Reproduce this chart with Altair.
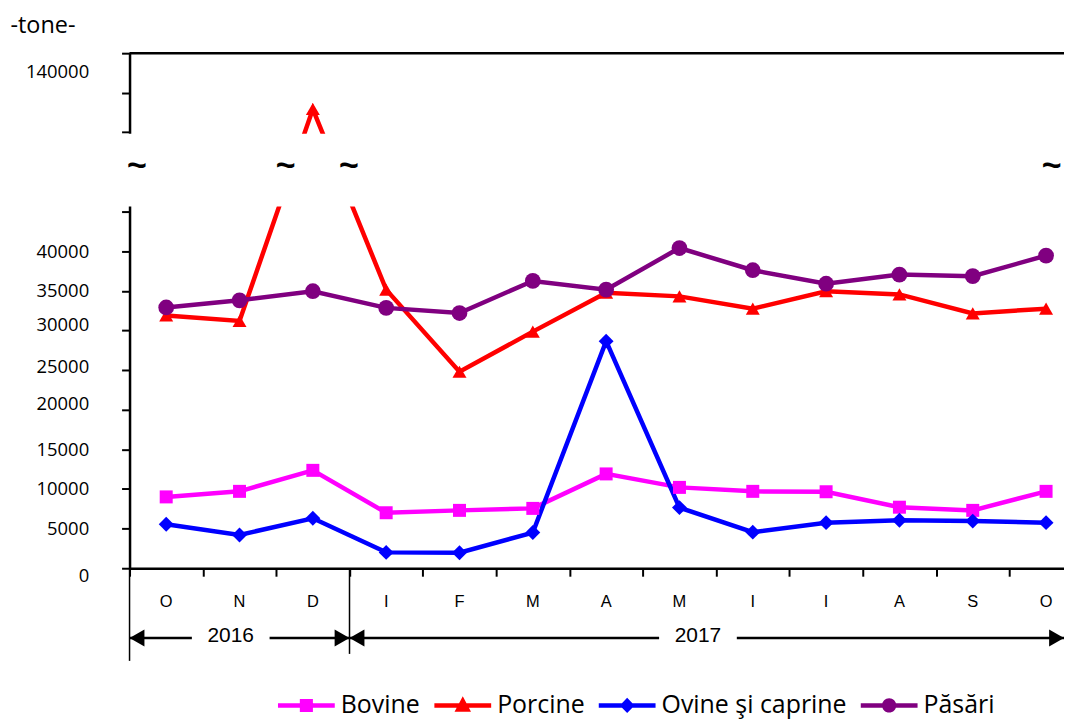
import altair as alt
import pandas as pd

# ---------------- data ----------------
months = ["O", "N", "D", "I", "F", "M", "A", "M", "I", "I", "A", "S", "O"]
series = ["Bovine", "Porcine", "Ovine şi caprine", "Păsări"]
bovine = [9000, 9700, 12350, 7000, 7300, 7550, 11900, 10200, 9700, 9650, 7700, 7300, 9700]
porcine = [31900, 31200, 135800, 35150, 24800, 29850, 34750, 34300, 32750, 34950, 34550, 32150, 32750]
ovine = [5550, 4200, 6300, 2000, 1950, 4500, 28650, 7650, 4550, 5750, 6050, 5950, 5750]
pasari = [32900, 33800, 34950, 32850, 32200, 36250, 35150, 40400, 37600, 35900, 37050, 36850, 39450]
years = ["2016", "2017"]
year_first_month = [0, 3]
y_ticks_low = [0, 5000, 10000, 15000, 20000, 25000, 30000, 35000, 40000, 45000]
y_ticks_high = [130000, 140000, 150000]
unit_label = "-tone-"

# ---------------- styles / layout ----------------
colors = ["#FF00FF", "#FF0000", "#0000FF", "#800080"]
shapes = ["square", "triangle-up", "diamond", "circle"]
sizes = [170, 250, 225, 225]
legend_paths = [
    "M-1,-0.08H1V0.08H-1Z M-0.23,-0.23H0.23V0.23H-0.23Z",
    "M-1,-0.08H1V0.08H-1Z M0,-0.32L0.29,0.22L-0.29,0.22Z",
    "M-1,-0.08H1V0.08H-1Z M0,-0.27L0.26,0L0,0.27L-0.26,0Z",
    "M-1,-0.08H1V0.08H-1Z M-0.25,0A0.25,0.25 0 1,1 0.25,0A0.25,0.25 0 1,1 -0.25,0Z",
]
STEP = 73.6
PL, PT, PR = 122, 44, 0
W, H = 938, 517
PB = 713 - PT - H
XMIN = -0.5
XMAX = XMIN + W / STEP
Y_DOMAIN = [0, 45000, 130000, 150000]
Y_RANGE = [H, H - 358, H - 438, 0]
FONT = "Open Sans"
FONT2 = "Liberation Sans"

rows = []
for s, vals in zip(series, [bovine, porcine, ovine, pasari]):
    for i, v in enumerate(vals):
        rows.append({"series": s, "idx": i, "value": v})
df = pd.DataFrame(rows)
month_df = pd.DataFrame({"idx": list(range(len(months))), "month": months})

xscale = alt.Scale(domain=[XMIN, XMAX], nice=False, zero=False)
yscale = alt.Scale(domain=Y_DOMAIN, range=Y_RANGE, nice=False, zero=False)
cscale = alt.Scale(domain=series, range=colors)

boundaries = [i - 0.5 for i in range(len(months))]
x_axis = alt.Axis(
    values=boundaries, title=None, grid=False, labels=False,
    domainColor="black", domainWidth=2.5,
    tickColor="black", tickWidth=2, tickSize=8,
)
y_axis = alt.Axis(
    values=y_ticks_low + y_ticks_high, format="d",
    labelExpr="(datum.value <= 40000 || datum.value == 140000) ? datum.label : ''",
    grid=False, domainColor="black", domainWidth=2.5,
    tickColor="black", tickWidth=2, tickSize=8,
    labelFont=FONT, labelFontSize=18.5, labelColor="black", labelPadding=33,
    labelOverlap=False, labelFlush=False,
    labelOffset={"condition": [
        {"test": "datum.value == 140000", "value": -21},
        {"test": "datum.value == 30000", "value": -6},
        {"test": "datum.value == 25000", "value": -4},
        {"test": "datum.value == 20000", "value": -6},
        {"test": "datum.value == 0", "value": 7},
    ], "value": 0},
    title=unit_label, titleAngle=0, titleX=-120, titleY=-28,
    titleAlign="left", titleBaseline="middle",
    titleFont=FONT, titleFontSize=23.5, titleFontWeight="normal", titleColor="black",
)

base = alt.Chart(df)
lines = base.mark_line(strokeWidth=4.5).encode(
    x=alt.X("idx:Q", scale=xscale, axis=x_axis),
    y=alt.Y("value:Q", scale=yscale, axis=y_axis),
    color=alt.Color("series:N", scale=cscale, legend=None),
    detail="series:N",
)
points = base.mark_point(filled=True, opacity=1, strokeWidth=0).encode(
    x="idx:Q", y="value:Q",
    color=alt.Color("series:N", scale=cscale, legend=None),
    shape=alt.Shape("series:N", scale=alt.Scale(domain=series, range=shapes), legend=None),
    size=alt.Size("series:N", scale=alt.Scale(domain=series, range=sizes), legend=None),
)

one = pd.DataFrame({"k": [0]})
gap = alt.Chart(one).mark_rect(color="white", yOffset=2, y2Offset=-5).encode(
    y=alt.datum(y_ticks_high[0]), y2=alt.datum(y_ticks_low[-1]),
    x=alt.value(-14), x2=alt.value(W),
)
top_rule = alt.Chart(one).mark_rule(color="black", strokeWidth=2.5).encode(
    y=alt.datum(y_ticks_high[-1]), x=alt.value(0), x2=alt.value(W),
)
tilde_df = pd.DataFrame({"idx": [XMIN + 0.1, 1.63, 2.49, XMAX - 0.17]})
tildes = alt.Chart(tilde_df).mark_text(
    text="~", font=FONT2, fontSize=34, fontWeight="bold", color="black", baseline="middle"
).encode(x="idx:Q", y=alt.value(113))

month_txt = alt.Chart(month_df).mark_text(
    font=FONT2, fontSize=16.5, color="black", baseline="middle", align="center"
).encode(x="idx:Q", y=alt.value(H + 34), text="month:N")

# year separators / arrows below the axis
sep_df = pd.DataFrame({"idx": [f - 0.5 for f in year_first_month]})
seps = alt.Chart(sep_df).mark_rule(color="black", strokeWidth=1.5).encode(
    x="idx:Q", y=alt.value(H), y2=alt.value(H + 93),
).transform_filter("datum.idx < 0")
seps2 = alt.Chart(sep_df).mark_rule(color="black", strokeWidth=1.5).encode(
    x="idx:Q", y=alt.value(H), y2=alt.value(H + 86),
).transform_filter("datum.idx >= 0")

spans = []
for k, yname in enumerate(years):
    start = year_first_month[k] - 0.5
    end = (year_first_month[k + 1] - 0.5) if k + 1 < len(years) else XMAX
    centre = (start + end) / 2 - 0.12
    spans.append({"year": yname, "start": start, "end": end, "centre": centre,
                  "g1": centre - 0.53, "g2": centre + 0.53})
span_df = pd.DataFrame(spans)
YA = H + 70
arr_l = alt.Chart(span_df).mark_rule(color="black", strokeWidth=2.5).encode(
    x="start:Q", x2="g1:Q", y=alt.value(YA))
arr_r = alt.Chart(span_df).mark_rule(color="black", strokeWidth=2.5).encode(
    x="g2:Q", x2="end:Q", y=alt.value(YA))
head_l = alt.Chart(span_df).mark_point(
    shape="M0,0L1.76,-1L1.76,1Z", filled=True, opacity=1, color="black", size=289, strokeWidth=0
).encode(x=alt.X("start:Q"), y=alt.value(YA))
head_r = alt.Chart(span_df).mark_point(
    shape="M0,0L-1.76,-1L-1.76,1Z", filled=True, opacity=1, color="black", size=289, strokeWidth=0
).encode(x=alt.X("end:Q"), y=alt.value(YA))
year_txt = alt.Chart(span_df).mark_text(
    font=FONT2, fontSize=21, color="black", baseline="middle", align="center"
).encode(x="centre:Q", y=alt.value(YA - 2), text="year:N")

leg = alt.Legend(
    orient="none", legendX=149, legendY=626, direction="horizontal", columns=4,
    title=None, symbolSize=3249, symbolStrokeWidth=0, symbolOpacity=1,
    labelFont=FONT, labelFontSize=25, labelColor="black", labelOffset=6,
    columnPadding=14, padding=0, labelLimit=0,
)
legend_layer = base.mark_point(filled=True, opacity=1).encode(
    x="idx:Q", y="value:Q",
    color=alt.Color("series:N", scale=cscale, legend=leg),
    shape=alt.Shape("series:N", scale=alt.Scale(domain=series, range=legend_paths), legend=leg),
).transform_filter("false")

chart = alt.layer(
    lines, points, gap, top_rule, tildes, month_txt, seps, seps2, arr_l, arr_r,
    head_l, head_r, year_txt, legend_layer,
).resolve_scale(
    color="independent", shape="independent", size="independent"
).properties(
    width=W, height=H,
    padding={"left": PL, "top": PT, "right": PR, "bottom": PB},
    autosize=alt.AutoSizeParams(type="none"),
    background="white",
).configure_view(stroke=None)

chart.save("out.html", embed_options={"renderer": "svg", "actions": False})
